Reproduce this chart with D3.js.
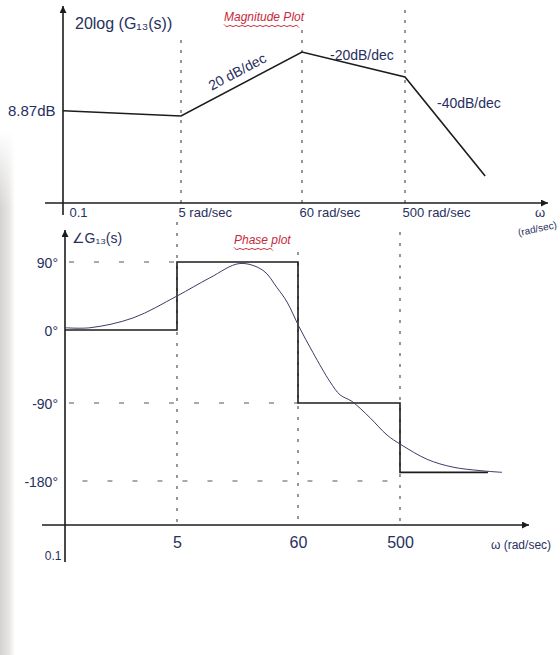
<!DOCTYPE html>
<html>
<head>
<meta charset="utf-8">
<style>
  body { margin: 0; background: #fff; }
  #chart text { font-family: "Liberation Sans", "DejaVu Sans", sans-serif; }
</style>
</head>
<body>
<div id="chart"></div>
<script src="https://cdn.jsdelivr.net/npm/d3@7"></script>
<script>
// corner frequencies, rad/sec (last one is where the sketch stops)
const breakFreqs = [0.1, 5, 60, 500, 3000];
// asymptotic magnitude at those frequencies, dB
const magValues = [8.87, 6.8, 32.4, 22.4, -17.2];
// asymptotic (step) phase, degrees, starting at each corner
const stepPhase = [0, 90, -90, -170, -170];
// smooth phase curve
const curveFreqs = [0.1, 0.24, 1.08, 5, 9.8, 18.2, 29.2, 39, 47.9, 61, 82, 117, 144, 184, 268, 382, 510, 870, 1470, 2550, 4000];
const curvePhase = [3, 3, 16, 45, 69, 88, 79, 56, 37, 5, -28, -64, -80, -88, -107, -127, -138, -155, -164, -168, -170];

const magTickLabels = ["0.1", "5 rad/sec", "60 rad/sec", "500 rad/sec"];
const phaseTicks = [90, 0, -90, -180];
const phaseTickLabels = ["0.1", "5", "60", "500"];
const slopeLabels = ["20 dB/dec", "-20dB/dec", "-40dB/dec"];

const INK = "#1c1c1c";
const PEN = "#27305e";
const RED = "#c62a3a";

const W = 560, H = 655;
const svg = d3.select("#chart").append("svg").attr("width", W).attr("height", H);

const defs = svg.append("defs");
const edge = defs.append("linearGradient").attr("id", "edge");
edge.append("stop").attr("offset", 0).attr("stop-color", "#d4d2d0");
edge.append("stop").attr("offset", 0.6).attr("stop-color", "#e6e5e4");
edge.append("stop").attr("offset", 1).attr("stop-color", "#fff");
const edgeFade = defs.append("linearGradient").attr("id", "edgeFade")
  .attr("x1", 0).attr("y1", 0).attr("x2", 0).attr("y2", 1);
edgeFade.append("stop").attr("offset", 0).attr("stop-color", "#fff");
edgeFade.append("stop").attr("offset", 0.15).attr("stop-color", "#fff").attr("stop-opacity", 0);
defs.append("marker").attr("id", "arrow")
  .attr("viewBox", "0 0 10 10").attr("refX", 10).attr("refY", 5)
  .attr("markerWidth", 11).attr("markerHeight", 7).attr("markerUnits", "userSpaceOnUse")
  .attr("orient", "auto")
  .append("path").attr("d", "M0,0 L10,5 L0,10 Z").attr("fill", INK);

svg.append("rect").attr("width", W).attr("height", H).attr("fill", "#fff");
svg.append("rect").attr("x", 0).attr("y", 130).attr("width", 15).attr("height", 525).attr("fill", "url(#edge)");
svg.append("rect").attr("x", 0).attr("y", 130).attr("width", 15).attr("height", 525).attr("fill", "url(#edgeFade)");

// hand drawn axes are not log-even, so use piecewise log scales
const xMag = d3.scaleLog().domain([0.1, 5, 60, 500, 5000]).range([63, 181, 302, 405, 508]);
const yMag = d3.scaleLinear().domain([0, 40]).range([133, 33]);
const xPh = d3.scaleLog().domain([0.1, 5, 60, 500, 5000]).range([65, 177, 298, 400, 513]);
const yPh = d3.scaleLinear().domain([-180, -90, 0, 90]).range([481, 403, 330, 262]);

const wavy = (g, x0, x1, y) => {
  const pts = d3.range(x0, x1, 3).map((x, i) => [x, y + (i % 2 ? 1.6 : -1.6)]);
  g.append("path").attr("d", d3.line().curve(d3.curveBasis)(pts))
    .attr("fill", "none").attr("stroke", RED).attr("stroke-width", 1);
};

// ---------- magnitude plot ----------
const mag = svg.append("g");

mag.selectAll(".vguide").data(breakFreqs.slice(1, 4)).join("line")
  .attr("x1", d => xMag(d)).attr("x2", d => xMag(d))
  .attr("y1", (d, i) => [40, 30, 10][i]).attr("y2", 203)
  .attr("stroke", "#444").attr("stroke-width", 1.1).attr("stroke-dasharray", "3,7");

mag.append("line").attr("x1", 63).attr("x2", 63).attr("y1", 215).attr("y2", 6)
  .attr("stroke", INK).attr("stroke-width", 1.6).attr("marker-end", "url(#arrow)");
mag.append("line").attr("x1", 45).attr("x2", 548).attr("y1", 203).attr("y2", 203)
  .attr("stroke", INK).attr("stroke-width", 1.4).attr("marker-end", "url(#arrow)");

const magAxis = mag.append("g").attr("transform", "translate(0,203)")
  .call(d3.axisBottom(xMag).tickValues(breakFreqs.slice(0, 4)).tickSize(0)
    .tickFormat((d, i) => magTickLabels[i]));
magAxis.select(".domain").remove();
magAxis.selectAll("text")
  .attr("text-anchor", "start").attr("x", (d, i) => i ? -3 : 6).attr("y", 5)
  .attr("fill", PEN).style("font-size", "13px");

mag.append("path").datum(breakFreqs)
  .attr("d", d3.line().x(d => xMag(d)).y((d, i) => yMag(magValues[i])))
  .attr("fill", "none").attr("stroke", INK).attr("stroke-width", 1.6);

mag.append("text").attr("x", 8).attr("y", yMag(magValues[0]) + 5)
  .attr("fill", PEN).style("font-size", "15px").text(magValues[0] + "dB");
mag.append("text").attr("x", 75).attr("y", 29)
  .attr("fill", PEN).style("font-size", "16px").text("20log (G₁₃(s))");
mag.append("text").attr("x", 224).attr("y", 21)
  .attr("fill", RED).style("font-size", "12px").style("font-style", "italic").text("Magnitude Plot");
wavy(mag, 224, 300, 26);

// slope labels
const p1 = [xMag(breakFreqs[1]), yMag(magValues[1])];
const p2 = [xMag(breakFreqs[2]), yMag(magValues[2])];
const ang = Math.atan2(p2[1] - p1[1], p2[0] - p1[0]) * 180 / Math.PI;
mag.append("text")
  .attr("transform", `translate(${(p1[0] + p2[0]) / 2 - 2},${(p1[1] + p2[1]) / 2 - 8}) rotate(${ang})`)
  .attr("text-anchor", "middle").attr("fill", PEN).style("font-size", "14px").text(slopeLabels[0]);
mag.append("text").attr("x", 330).attr("y", 60)
  .attr("fill", PEN).style("font-size", "14px").text(slopeLabels[1]);
mag.append("text").attr("x", 437).attr("y", 108)
  .attr("fill", PEN).style("font-size", "14px").text(slopeLabels[2]);

mag.append("text").attr("x", 540).attr("y", 217).attr("text-anchor", "middle")
  .attr("fill", PEN).style("font-size", "13px").text("ω");
mag.append("text").attr("transform", "translate(538,232) rotate(-12)").attr("text-anchor", "middle")
  .attr("fill", PEN).style("font-size", "10px").text("(rad/sec)");

// ---------- phase plot ----------
const ph = svg.append("g");

ph.selectAll(".vguide").data(breakFreqs.slice(1, 4)).join("line")
  .attr("x1", d => xPh(d)).attr("x2", d => xPh(d))
  .attr("y1", (d, i) => [222, 252, 232][i]).attr("y2", 525)
  .attr("stroke", "#444").attr("stroke-width", 1.1).attr("stroke-dasharray", "3,8");

// horizontal guides at the tick levels
const guideEnds = [[0.1, 5], null, [0.1, 60], [0.16, 460]];
ph.selectAll(".hguide").data(phaseTicks.filter((d, i) => guideEnds[i]))
  .join("line")
  .attr("x1", d => xPh(guideEnds[phaseTicks.indexOf(d)][0]) + 4)
  .attr("x2", d => xPh(guideEnds[phaseTicks.indexOf(d)][1]))
  .attr("y1", d => yPh(d)).attr("y2", d => yPh(d))
  .attr("stroke", "#555").attr("stroke-width", 1).attr("stroke-dasharray", "5,20");

ph.append("line").attr("x1", 65).attr("x2", 65).attr("y1", 562).attr("y2", 230)
  .attr("stroke", INK).attr("stroke-width", 1.6).attr("marker-end", "url(#arrow)");
ph.append("line").attr("x1", 42).attr("x2", 529).attr("y1", 525).attr("y2", 525)
  .attr("stroke", INK).attr("stroke-width", 1.4).attr("marker-end", "url(#arrow)");

const phX = ph.append("g").attr("transform", "translate(0,525)")
  .call(d3.axisBottom(xPh).tickValues(breakFreqs.slice(0, 4)).tickSize(0)
    .tickFormat((d, i) => phaseTickLabels[i]));
phX.select(".domain").remove();
phX.selectAll("text")
  .attr("fill", PEN)
  .attr("text-anchor", (d, i) => i ? "middle" : "end")
  .attr("x", (d, i) => i ? 0 : -4)
  .attr("y", (d, i) => i ? 12 : 26)
  .style("font-size", (d, i) => i ? "16px" : "12px");

const phY = ph.append("g").attr("transform", "translate(65,0)")
  .call(d3.axisLeft(yPh).tickValues(phaseTicks).tickSize(0).tickPadding(7)
    .tickFormat(d => d + "°"));
phY.select(".domain").remove();
phY.selectAll("text").attr("fill", PEN).attr("dy", "0.4em").style("font-size", "14px");

ph.append("path").datum(breakFreqs)
  .attr("d", d3.line().curve(d3.curveStepAfter).x(d => xPh(d)).y((d, i) => yPh(stepPhase[i])))
  .attr("fill", "none").attr("stroke", INK).attr("stroke-width", 1.6);

ph.append("path").datum(curveFreqs)
  .attr("d", d3.line().curve(d3.curveCatmullRom.alpha(0.5)).x(d => xPh(d)).y((d, i) => yPh(curvePhase[i])))
  .attr("fill", "none").attr("stroke", "#3a3d66").attr("stroke-width", 1);

ph.append("text").attr("x", 72).attr("y", 243)
  .attr("fill", PEN).style("font-size", "14px").text("∠G₁₃(s)");
ph.append("text").attr("x", 234).attr("y", 244)
  .attr("fill", RED).style("font-size", "12px").style("font-style", "italic").text("Phase plot");
wavy(ph, 234, 276, 249);

ph.append("text").attr("x", 491).attr("y", 549)
  .attr("fill", PEN).style("font-size", "12px").text("ω (rad/sec)");
</script>
</body>
</html>
